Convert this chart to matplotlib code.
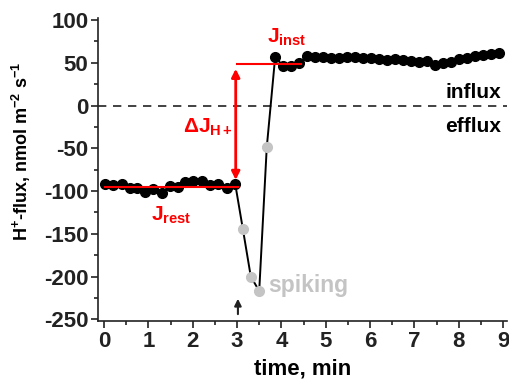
import numpy as np
import matplotlib
matplotlib.use('Agg')
import matplotlib.pyplot as plt
from matplotlib.ticker import MultipleLocator

plt.rcParams['font.family'] = ['Liberation Sans', 'DejaVu Sans']
plt.rcParams['font.weight'] = 'bold'
plt.rcParams['axes.unicode_minus'] = False
plt.rcParams['mathtext.fontset'] = 'custom'
plt.rcParams['mathtext.rm'] = 'Liberation Sans:bold'
plt.rcParams['mathtext.it'] = 'Liberation Sans:bold'
plt.rcParams['mathtext.bf'] = 'Liberation Sans:bold'

# resting flux, before the stimulus
t_rest = [0.02, 0.2, 0.4, 0.59, 0.75, 0.93, 1.11, 1.31, 1.49, 1.67, 1.83,
          2.01, 2.21, 2.4, 2.58, 2.78, 2.96]
j_rest = [-92, -93, -92, -97, -96, -101, -98, -102, -94, -95, -89,
          -88, -88, -93, -92, -97, -92]

# spiking (grey points)
t_spike = [3.13, 3.31, 3.5, 3.67]
j_spike = [-144, -200, -217, -49]

# after the spike
t_after = [3.86, 4.04, 4.22, 4.4, 4.58, 4.76, 4.94, 5.12, 5.3, 5.48, 5.66,
           5.84, 6.02, 6.2, 6.38, 6.56, 6.74, 6.92, 7.1, 7.28, 7.46, 7.64,
           7.82, 8.0, 8.18, 8.36, 8.54, 8.72, 8.9]
j_after = [57, 46, 46, 50, 58, 57, 57, 56, 56, 57, 57,
           56, 56, 55, 53, 54, 53, 52, 51, 52, 48, 50,
           51, 55, 56, 58, 59, 60, 61]

j_rest_level = -95
j_inst_level = 49

fig = plt.figure(figsize=(5.09, 3.83), dpi=100)
ax = fig.add_axes([0.1925, 0.162, 0.803, 0.79])

t_all = t_rest + t_spike + t_after
j_all = j_rest + j_spike + j_after
ax.plot(t_all, j_all, color='black', lw=1.4, zorder=2)
ax.plot(t_rest + t_after, j_rest + j_after, 'o', color='black', ms=7, zorder=3)
ax.plot(t_spike, j_spike, 'o', color='#c4c4c4', ms=7, zorder=3)

ax.axhline(0, color='#222222', ls=(0, (5, 4)), lw=1.2, zorder=1)

# red levels
ax.plot([0.02, 3.02], [j_rest_level, j_rest_level], color='red', lw=1.5, zorder=4)
ax.plot([3.0, 4.45], [j_inst_level, j_inst_level], color='red', lw=1.5, zorder=4)
ax.annotate('', xy=(2.97, -87), xytext=(2.97, 43),
            arrowprops=dict(arrowstyle='<|-|>', color='red', lw=2,
                            mutation_scale=12, shrinkA=0, shrinkB=0), zorder=5)

ax.text(2.9, -25, r'$\Delta J_{H+}$', color='red', fontsize=15,
        ha='right', va='center')
ax.text(1.05, -128, r'$J_{rest}$', color='red', fontsize=15,
        ha='left', va='center')
ax.text(3.68, 80, r'$J_{inst}$', color='red', fontsize=15,
        ha='left', va='center')
ax.text(3.7, -210, 'spiking', color='#c4c4c4', fontsize=16.5,
        fontweight='bold', ha='left', va='center')
ax.text(8.95, 15, 'influx', color='black', fontsize=15,
        fontweight='bold', ha='right', va='center')
ax.text(8.95, -24, 'efflux', color='black', fontsize=15,
        fontweight='bold', ha='right', va='center')

ax.annotate('', xy=(3.02, -226), xytext=(3.02, -244),
            arrowprops=dict(arrowstyle='-|>', color='#222222', lw=1.5,
                            mutation_scale=10, shrinkA=0, shrinkB=0))

ax.set_xlim(-0.135, 9.08)
ax.set_ylim(-252, 102)
ax.xaxis.set_major_locator(MultipleLocator(1))
ax.xaxis.set_minor_locator(MultipleLocator(0.5))
ax.yaxis.set_major_locator(MultipleLocator(50))
ax.yaxis.set_minor_locator(MultipleLocator(25))
ax.tick_params(which='major', direction='out', length=5, width=1.2,
               labelsize=16, labelcolor='#222222', color='#222222', pad=2)
ax.tick_params(which='minor', direction='out', length=3, width=1.2,
               color='#222222')
for lab in ax.get_xticklabels() + ax.get_yticklabels():
    lab.set_fontweight('bold')
for s in ['top', 'right']:
    ax.spines[s].set_visible(False)
for s in ['left', 'bottom']:
    ax.spines[s].set_linewidth(1.2)
    ax.spines[s].set_color('#222222')

ax.set_xlabel('time, min', fontsize=16, fontweight='bold', labelpad=5)
ax.set_ylabel(r'H$^{+}$-flux, nmol m$^{-2}$ s$^{-1}$', fontsize=13,
              fontweight='bold')
ax.yaxis.set_label_coords(-0.16, 0.56)

fig.savefig('out.png', dpi=100)
